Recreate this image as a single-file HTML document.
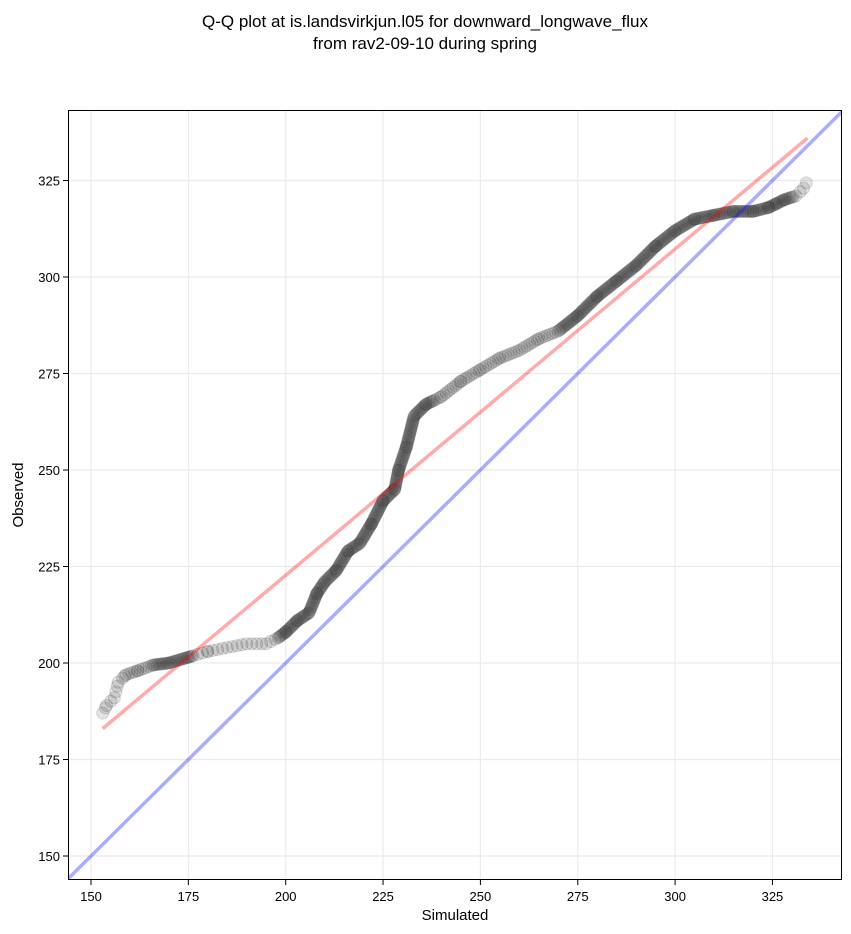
<!DOCTYPE html>
<html><head><meta charset="utf-8"><style>
html,body{margin:0;padding:0;background:#fff;}
svg{display:block;font-family:"Liberation Sans","DejaVu Sans",sans-serif;}
</style></head><body>
<svg id="s" width="851" height="934" viewBox="0 0 851 934" xmlns="http://www.w3.org/2000/svg">
<rect width="851" height="934" fill="#fff"/>
<text x="425" y="27" font-size="17" text-anchor="middle">Q-Q plot at is.landsvirkjun.l05 for downward_longwave_flux</text>
<text x="425" y="49" font-size="17" text-anchor="middle">from rav2-09-10 during spring</text>
<g id="grid" stroke="#ebebeb" stroke-width="1.2"></g>
<defs><clipPath id="c"><rect x="68" y="110" width="774" height="770"/></clipPath></defs>
<g id="pts" clip-path="url(#c)"></g>
<g clip-path="url(#c)">
<line id="red" stroke="#ff0000" stroke-opacity="0.33" stroke-width="3.5"/>
<line id="blue" stroke="#0000ff" stroke-opacity="0.33" stroke-width="3.5"/>
</g>
<rect x="68.5" y="110.5" width="773" height="769" fill="none" stroke="#000" stroke-width="1"/>
<g id="ticks" font-size="13"></g>
<text x="455" y="920" font-size="15" text-anchor="middle">Simulated</text>
<text transform="translate(23,495) rotate(-90)" font-size="15" text-anchor="middle">Observed</text>
</svg>
<script>
var NS="http://www.w3.org/2000/svg";
function X(v){return 91+(v-150)*3.894;}
function Y(v){return 856-(v-150)*3.86;}
function el(t,a,p){var e=document.createElementNS(NS,t);for(var k in a)e.setAttribute(k,a[k]);document.getElementById(p).appendChild(e);return e;}
var tv=[150,175,200,225,250,275,300,325];
tv.forEach(function(v){
 el("line",{x1:X(v),x2:X(v),y1:110,y2:880},"grid");
 el("line",{x1:68,x2:842,y1:Y(v),y2:Y(v)},"grid");
 el("line",{x1:X(v),x2:X(v),y1:880,y2:885,stroke:"#000"},"ticks");
 el("line",{x1:63,x2:68,y1:Y(v),y2:Y(v),stroke:"#000"},"ticks");
 var t=el("text",{x:X(v),y:901,"text-anchor":"middle"},"ticks");t.textContent=v;
 t=el("text",{x:60,y:Y(v)+5,"text-anchor":"end"},"ticks");t.textContent=v;
});
var P=[[153,187],[154,189],[156,191],[157,195],[159,197],[162,198],[166,199.5],[170,200],[175,201.5],[180,203],[185,204],[190,205],[195,205],[198,206.5],[200,208],[203,211],[206,213],[208,218],[210,221],[213,224],[216,229],[219,231],[222,236],[225,242],[228,245],[229,250],[231,256],[233,264],[236,267],[240,269],[245,273],[250,276],[255,279],[260,281],[265,284],[270,286],[275,290],[280,295],[285,299],[290,303],[295,308],[300,312],[305,315],[310,316],[315,317],[320,317],[324,318],[326,319],[328,320],[331,321],[333,323],[334,325]];
function sp(s){ if(s<158||s>330) return 6; if(s>176&&s<198) return 5; if(s<166) return 3; if(s>238&&s<270) return 3; return 1.6;}
for(var i=0;i<P.length-1;i++){
 var x1=X(P[i][0]),y1=Y(P[i][1]),x2=X(P[i+1][0]),y2=Y(P[i+1][1]);
 var f=0;var d=Math.hypot(x2-x1,y2-y1);
 while(f<1){
  var s=P[i][0]+(P[i+1][0]-P[i][0])*f;
  el("circle",{cx:x1+(x2-x1)*f,cy:y1+(y2-y1)*f,r:6,fill:"rgba(0,0,0,0.1)",stroke:"rgba(0,0,0,0.14)","stroke-width":1},"pts");
  f+=sp(s)/d;
 }
}
var r=document.getElementById("red");r.setAttribute("x1",X(153));r.setAttribute("y1",Y(183));r.setAttribute("x2",X(334));r.setAttribute("y2",Y(336));
var b=document.getElementById("blue");b.setAttribute("x1",X(140));b.setAttribute("y1",Y(140));b.setAttribute("x2",X(350));b.setAttribute("y2",Y(350));
</script>
</body></html>
